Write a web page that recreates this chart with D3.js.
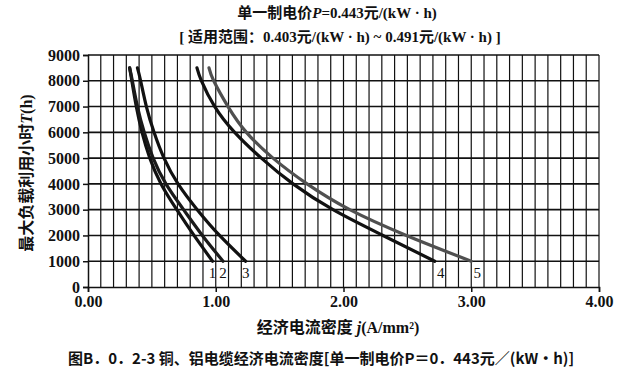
<!DOCTYPE html>
<html>
<head>
<meta charset="utf-8">
<script src="https://cdn.jsdelivr.net/npm/d3@7"></script>
<style>
  body { margin: 0; background: #fff; }
  text { font-family: "Liberation Serif", "Noto Sans CJK SC", serif; font-weight: bold; fill: #111; }
  .cap { font-family: "Noto Sans CJK SC", "Noto Sans", sans-serif; }
</style>
</head>
<body>
<div id="canvas"></div>
<script>
// T levels (h) read at each grid row, top point first
const levels = [8500, 8000, 7000, 6000, 5000, 4000, 3000, 2000, 1000];
// j (A/mm2) of each curve at those levels
const curve1 = [0.326, 0.343, 0.378, 0.423, 0.484, 0.572, 0.695, 0.830, 0.975];
const curve2 = [0.326, 0.347, 0.387, 0.440, 0.510, 0.610, 0.748, 0.895, 1.057];
const curve3 = [0.387, 0.412, 0.457, 0.517, 0.595, 0.705, 0.855, 1.030, 1.234];
const curve4 = [0.853, 0.888, 0.992, 1.148, 1.357, 1.605, 1.918, 2.309, 2.714];
const curve5 = [0.947, 0.984, 1.096, 1.240, 1.448, 1.715, 2.049, 2.492, 3.000];
const curveNames = ["1", "2", "3", "4", "5"];
const curveColors = ["#111", "#1a1a1a", "#111", "#111", "#505050"];
const xTicks = [0, 1, 2, 3, 4];
const yTicks = [0, 1000, 2000, 3000, 4000, 5000, 6000, 7000, 8000, 9000];

const width = 624, height = 373;
const svg = d3.select("#canvas").append("svg")
    .attr("width", width)
    .attr("height", height);

const x = d3.scaleLinear().domain([0, 4]).range([88, 599]);
const y = d3.scaleLinear().domain([0, 9000]).range([287, 55]);

// grid
const grid = svg.append("g");
grid.selectAll("line.v")
    .data(d3.range(1, 41).map(i => i / 10))
    .enter().append("line")
    .attr("x1", d => x(d)).attr("x2", d => x(d))
    .attr("y1", y(0)).attr("y2", y(9000))
    .attr("stroke", "#111").attr("stroke-width", 1.2);
grid.selectAll("line.h")
    .data(yTicks.slice(1))
    .enter().append("line")
    .attr("x1", x(0)).attr("x2", x(4))
    .attr("y1", d => y(d)).attr("y2", d => y(d))
    .attr("stroke", "#111").attr("stroke-width", 1.6);

// axes
const yAxis = svg.append("g")
    .attr("transform", `translate(${x(0)},0)`)
    .call(d3.axisLeft(y).tickValues(yTicks).tickSize(5).tickPadding(3).tickFormat(d3.format("d")));
const xAxis = svg.append("g")
    .attr("transform", `translate(0,${y(0)})`)
    .call(d3.axisBottom(x).tickValues(xTicks).tickSize(5).tickPadding(4).tickFormat(d3.format(".2f")));
[xAxis, yAxis].forEach(a => {
    a.selectAll("path").attr("stroke", "#111").attr("stroke-width", 1.5);
    a.selectAll("line").attr("stroke", "#111").attr("stroke-width", 1.5);
    a.selectAll("text")
        .style("font-family", "'Liberation Serif', serif")
        .style("font-weight", "bold")
        .style("font-size", "16px")
        .attr("fill", "#111");
});

// curves
const series = [curve1, curve2, curve3, curve4, curve5].map((c, i) => ({
    name: curveNames[i],
    color: curveColors[i],
    pts: c.map((j, k) => [j, levels[k]])
}));
const line = d3.line()
    .x(d => x(d[0]))
    .y(d => y(d[1]))
    .curve(d3.curveNatural);
svg.append("g").selectAll("path")
    .data(series)
    .enter().append("path")
    .attr("d", d => line(d.pts))
    .attr("fill", "none")
    .attr("stroke", d => d.color)
    .attr("stroke-width", 3.2)
    .attr("stroke-linecap", "round");

// curve numbers below the ends
svg.append("g").selectAll("text")
    .data(series)
    .enter().append("text")
    .attr("x", (d, i) => x(d.pts[d.pts.length - 1][0]) + (i > 2 ? 6 : 0))
    .attr("y", y(1000) + 17)
    .attr("text-anchor", "middle")
    .style("font-weight", "normal")
    .style("font-size", "15px")
    .text(d => d.name);

// titles
const t1 = svg.append("text").attr("x", 337).attr("y", 18)
    .attr("text-anchor", "middle").style("font-size", "15px");
t1.append("tspan").text("单一制电价");
t1.append("tspan").style("font-style", "italic").text("P");
t1.append("tspan").text("=0.443元/(kW · h)");
svg.append("text").attr("x", 340).attr("y", 42)
    .attr("text-anchor", "middle").style("font-size", "15px")
    .text("[ 适用范围：0.403元/(kW · h) ~ 0.491元/(kW · h) ]");

const yl = svg.append("text")
    .attr("transform", `translate(32,173) rotate(-90)`)
    .attr("text-anchor", "middle").style("font-size", "16px");
yl.append("tspan").text("最大负载利用小时");
yl.append("tspan").style("font-style", "italic").text("T");
yl.append("tspan").text("(h)");

const xl = svg.append("text").attr("x", 338).attr("y", 333)
    .attr("text-anchor", "middle").style("font-size", "16px");
xl.append("tspan").text("经济电流密度 ");
xl.append("tspan").style("font-style", "italic").text("j");
xl.append("tspan").text("(A/mm²)");

svg.append("text").attr("class", "cap").attr("x", 68).attr("y", 364)
    .style("font-size", "15px")
    .text("图B．0．2-3 铜、铝电缆经济电流密度[单一制电价P＝0．443元／(kW•h)]");
</script>
</body>
</html>
